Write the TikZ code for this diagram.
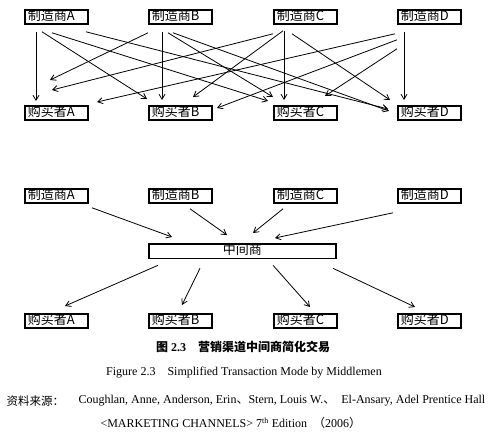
\documentclass[tikz,border=0pt]{standalone}
\usepackage{fontspec}
\setmainfont{Liberation Serif}
\newfontfamily\cjk{Noto Sans CJK SC}
\usetikzlibrary{arrows.meta,positioning}
\tikzset{
  >={Straight Barb[length=5pt,width=6pt]},
  firm/.style={draw,line width=1.8pt,anchor=north west,minimum height=14pt,
    text width=57pt,inner xsep=3pt,inner ysep=0.8pt,text height=9.5pt,text depth=2pt,
    align=left,font=\cjk\fontsize{13}{13}\selectfont},
  deal/.style={->,line width=0.8pt},
  capline/.style={font=\fontsize{12}{14}\selectfont},
}
\begin{document}
\begin{tikzpicture}[x=1pt,y=-1pt]
  \useasboundingbox (0,0) rectangle (497,434);
  % direct trading: every maker to every buyer
  \node[firm] (mfrA) at (24,9) {制造商A};
  \node[firm] (mfrB) at (148,9) {制造商B};
  \node[firm] (mfrC) at (273,9) {制造商C};
  \node[firm] (mfrD) at (397,9) {制造商D};
  \node[firm] (buyA) at (24,105) {购买者A};
  \node[firm] (buyB) at (148,105) {购买者B};
  \node[firm] (buyC) at (273,105) {购买者C};
  \node[firm] (buyD) at (397,105) {购买者D};
  \draw[deal] ([shift={(12,7)}]mfrA.south west) -- ([shift={(12,-4)}]buyA.north west);
  \draw[deal] ([shift={(18,7)}]mfrA.south west) -- ([shift={(-1,-6)}]buyB.north west);
  \draw[deal] ([shift={(28,8)}]mfrA.south west) -- ([shift={(-5,-4)}]buyC.north west);
  \draw[deal] ([shift={(62,7)}]mfrA.south west) -- ([shift={(-9,4)}]buyD.north west);
  \draw[deal] ([shift={(0,8)}]mfrB.south west) -- ([shift={(26,-25)}]buyA.north west);
  \draw[deal] ([shift={(14,7)}]mfrB.south west) -- ([shift={(14,-5)}]buyB.north west);
  \draw[deal] ([shift={(20,8)}]mfrB.south west) -- ([shift={(0,-8)}]buyC.north west);
  \draw[deal] ([shift={(25,8)}]mfrB.south west) -- ([shift={(-8,6)}]buyD.north west);
  \draw[deal] ([shift={(0,9)}]mfrC.south west) -- ([shift={(28,-15)}]buyA.north west);
  \draw[deal] ([shift={(10,6)}]mfrC.south west) -- ([shift={(45,-8)}]buyB.north west);
  \draw[deal] ([shift={(11,6)}]mfrC.south west) -- ([shift={(11,-5)}]buyC.north west);
  \draw[deal] ([shift={(19,9)}]mfrC.south west) -- ([shift={(-7,-5)}]buyD.north west);
  \draw[deal] ([shift={(-2,9)}]mfrD.south west) -- ([shift={(73,-3)}]buyA.north west);
  \draw[deal] ([shift={(0,15)}]mfrD.south west) -- ([shift={(69,3)}]buyB.north west);
  \draw[deal] ([shift={(0,24)}]mfrD.south west) -- ([shift={(52,-9)}]buyC.north west);
  \draw[deal] ([shift={(7,7)}]mfrD.south west) -- ([shift={(7,-5)}]buyD.north west);
  % trading through the middleman
  \node[firm] (mfrA2) at (24,188) {制造商A};
  \node[firm] (mfrB2) at (148,188) {制造商B};
  \node[firm] (mfrC2) at (273,188) {制造商C};
  \node[firm] (mfrD2) at (397,188) {制造商D};
  \node[firm,text width=181pt,align=center,inner ysep=1.5pt] (mid) at (148,243) {中间商};
  \node[firm] (buyA2) at (24,313) {购买者A};
  \node[firm] (buyB2) at (148,313) {购买者B};
  \node[firm] (buyC2) at (273,313) {购买者C};
  \node[firm] (buyD2) at (397,313) {购买者D};
  \draw[deal] ([shift={(68,4)}]mfrA2.south west) -- ([shift={(24,-6)}]mid.north west);
  \draw[deal] ([shift={(42,5)}]mfrB2.south west) -- ([shift={(79,-8)}]mid.north west);
  \draw[deal] ([shift={(10,5)}]mfrC2.south west) -- ([shift={(105,-10)}]mid.north west);
  \draw[deal] ([shift={(-4,9)}]mfrD2.south west) -- ([shift={(127,-5)}]mid.north west);
  \draw[deal] ([shift={(10,6)}]mid.south west) -- ([shift={(41,-7)}]buyA2.north west);
  \draw[deal] ([shift={(52,9)}]mid.south west) -- ([shift={(34,-8)}]buyB2.north west);
  \draw[deal] ([shift={(125,6)}]mid.south west) -- ([shift={(37,-6)}]buyC2.north west);
  \draw[deal] ([shift={(185,9)}]mid.south west) -- ([shift={(18,-6)}]buyD2.north west);
  % captions
  \node[capline,font=\fontsize{12}{14}\selectfont\bfseries] (title) at (243,347) {{\cjk 图} 2.3\quad{\cjk 营销渠道中间商简化交易}};
  \node[capline] (entitle) at (244,373) {Figure 2.3\quad Simplified Transaction Mode by Middlemen};
  \node[capline,anchor=west,font=\cjk\fontsize{11.5}{13}\selectfont] (src) at (3,401) {资料来源：};
  \node[capline,anchor=west] (authors) at (75,401) {Coughlan, Anne, Anderson, Erin{\cjk 、}Stern, Louis W.{\cjk 、}\enspace El-Ansary, Adel Prentice Hall};
  \node[capline,anchor=west] (book) at (97,423) {<MARKETING CHANNELS> 7\textsuperscript{th} Edition\enspace{\cjk （}2006{\cjk ）}};
\end{tikzpicture}
\end{document}
